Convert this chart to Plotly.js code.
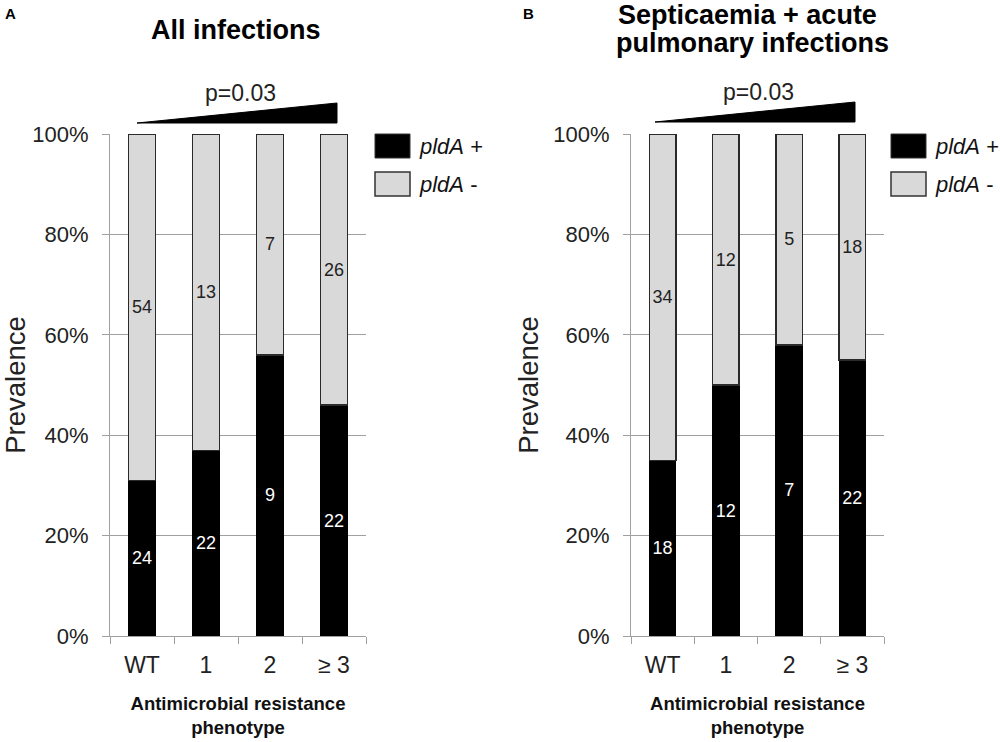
<!DOCTYPE html>
<html><head><meta charset="utf-8">
<script src="https://cdn.plot.ly/plotly-3.0.1.min.js"></script>
<style>html,body{margin:0;padding:0;background:#fff}#chart{width:1000px;height:742px}</style>
</head><body><div id="chart"></div>
<script>
// ---- data ----
const categories = ["WT", "1", "2", "\u2265 3"];
// Panel A: All infections (prevalence %)
const allPosPct = [31, 37, 56, 46];
const allNegPct = [69, 63, 44, 54];
const allPosN = ["24", "22", "9", "22"];
const allNegN = ["54", "13", "7", "26"];
// Panel B: Septicaemia + acute pulmonary infections
const sepPosPct = [35, 50, 58, 55];
const sepNegPct = [65, 50, 42, 45];
const sepPosN = ["18", "12", "7", "22"];
const sepNegN = ["34", "12", "5", "18"];
const yTickVals = [0, 20, 40, 60, 80, 100];
const yTickText = ["0%", "20%", "40%", "60%", "80%", "100%"];

const W = 1000, H = 742;
const px = v => v / W, py = v => 1 - v / H;
const FONT = "Liberation Sans, Arial, sans-serif";
const GREY = "#d9d9d9", LINE = "#a0a0a0", TXT = "#222";

function bars(xa, ya, pos, neg, posN, negN) {
  const common = {type: "bar", x: categories, xaxis: xa, yaxis: ya, width: 0.42,
    textposition: "inside", insidetextanchor: "middle", textangle: 0,
    hoverinfo: "skip", showlegend: false, constraintext: "none"};
  return [
    Object.assign({}, common, {y: pos, text: posN, name: "pldA +",
      marker: {color: "#000", line: {color: "#000", width: 1}},
      textfont: {color: "#fff", size: 18, family: FONT}}),
    Object.assign({}, common, {y: neg, text: negN, name: "pldA -",
      marker: {color: GREY, line: {color: "#2a2a2a", width: 1.4}},
      textfont: {color: TXT, size: 18, family: FONT}})
  ];
}

const data = [].concat(
  bars("x", "y", allPosPct, allNegPct, allPosN, allNegN),
  bars("x2", "y2", sepPosPct, sepNegPct, sepPosN, sepNegN)
);

const yDom = [py(636), py(134)];
function xaxis(dom) {
  return {domain: dom, type: "category", showline: true, linecolor: LINE, linewidth: 1,
    ticks: "outside", tickson: "boundaries", ticklen: 7, tickcolor: LINE,
    ticklabelstandoff: 8,
    tickfont: {size: 23, family: FONT, color: TXT}, showgrid: false, zeroline: false,
    fixedrange: true,
    title: {text: "<b>Antimicrobial resistance<br>phenotype</b>", standoff: 20,
      font: {size: 18.5, family: FONT, color: "#111"}}};
}
function yaxis(anchor, standoff) {
  return {domain: yDom, anchor: anchor, range: [0, 100], tickvals: yTickVals, ticktext: yTickText,
    showline: true, linecolor: LINE, linewidth: 1, ticks: "outside", ticklen: 7, tickcolor: LINE,
    ticklabelstandoff: 9,
    showgrid: true, gridcolor: LINE, gridwidth: 1, zeroline: false,
    tickfont: {size: 22, family: FONT, color: TXT}, fixedrange: true,
    title: {text: "Prevalence", standoff: standoff, font: {size: 27.5, family: FONT, color: TXT}}};
}

function legendParts(x0) {
  const shapes = [
    {type: "rect", xref: "paper", yref: "paper", x0: px(x0), x1: px(x0 + 35), y0: py(158), y1: py(134),
      fillcolor: "#000", line: {color: "#333", width: 1}},
    {type: "rect", xref: "paper", yref: "paper", x0: px(x0), x1: px(x0 + 35), y0: py(196), y1: py(172),
      fillcolor: GREY, line: {color: "#333", width: 1.5}}
  ];
  const ann = [
    {xref: "paper", yref: "paper", x: px(x0 + 42), y: py(146), xanchor: "left", yanchor: "middle",
      showarrow: false, text: "<i>pldA</i> +", font: {size: 22, family: FONT, color: "#111"}},
    {xref: "paper", yref: "paper", x: px(x0 + 42), y: py(185), xanchor: "left", yanchor: "middle",
      showarrow: false, text: "<i>pldA</i> -", font: {size: 22, family: FONT, color: "#111"}}
  ];
  return {shapes, ann};
}
function wedge(x0, x1, yb, yt) {
  return {type: "path", xref: "paper", yref: "paper",
    path: `M ${px(x0)} ${py(yb)} L ${px(x1)} ${py(yt)} L ${px(x1)} ${py(yb)} Z`,
    fillcolor: "#000", line: {color: "#000", width: 1}};
}

const lA = legendParts(375), lB = legendParts(891);
function ann(x, y, text, size, color) {
  return {xref: "paper", yref: "paper", x: px(x), y: py(y), xanchor: "center", yanchor: "middle",
    showarrow: false, text: text, font: {size: size, family: FONT, color: color}};
}

const layout = {
  width: W, height: H, margin: {l: 0, r: 0, t: 0, b: 0},
  paper_bgcolor: "#fff", plot_bgcolor: "#fff", barmode: "stack",
  title: {text: ""},
  font: {family: FONT, color: TXT},
  xaxis: Object.assign(xaxis([px(110), px(366)]), {anchor: "y"}),
  yaxis: yaxis("x", 6),
  xaxis2: Object.assign(xaxis([px(631), px(884)]), {anchor: "y2"}),
  yaxis2: yaxis("x2", 6),
  shapes: [wedge(137, 337, 123, 103), wedge(655, 855, 122, 102)].concat(lA.shapes, lB.shapes),
  annotations: [
    ann(10, 13, "<b>A</b>", 15, "#000"),
    ann(528, 13, "<b>B</b>", 15, "#000"),
    ann(236, 30, "<b>All infections</b>", 27, "#000"),
    ann(747, 15, "<b>Septicaemia + acute</b>", 27, "#000"),
    ann(752, 43, "<b>pulmonary infections</b>", 27, "#000"),
    ann(240, 93, "p=0.03", 23, TXT),
    ann(758, 92, "p=0.03", 23, TXT)
  ].concat(lA.ann, lB.ann)
};

Plotly.newPlot("chart", data, layout, {staticPlot: true, displayModeBar: false});
</script></body></html>
